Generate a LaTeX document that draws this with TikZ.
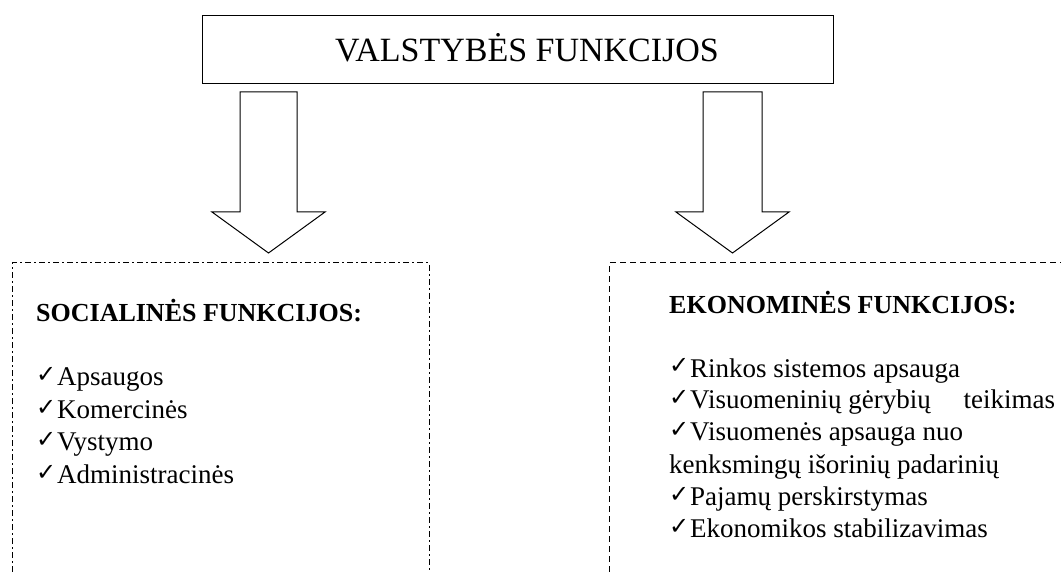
\documentclass[tikz,border=0pt]{standalone}
\usepackage{fontspec}
\setmainfont{Liberation Serif}
\newfontfamily\checkfont{DejaVu Sans}
\newcommand{\tick}{\makebox[21pt][l]{\raisebox{3pt}{\checkfont\fontsize{24}{24}\selectfont ✓}}}
\tikzset{
  headbox/.style={draw, line width=1pt, inner sep=0pt},
  titletext/.style={anchor=base, inner sep=0pt, font=\fontsize{34}{34}\selectfont},
  grouphead/.style={anchor=base west, inner sep=0pt, font=\bfseries\fontsize{26}{26}\selectfont},
  entry/.style={anchor=base west, inner sep=0pt, font=\fontsize{27}{27}\selectfont},
  blockarrow/.style={draw, line width=1pt, line join=miter},
  socframe/.style={draw, line width=1pt, dash pattern=on 6pt off 3pt on 2pt off 3pt},
  ekoframe/.style={draw, line width=1pt, dash pattern=on 6pt off 4pt}
}
\begin{document}
\begin{tikzpicture}[x=1pt, y=-1pt]
  \useasboundingbox (0,0) rectangle (1061,572);
  % top box
  \node[headbox, minimum width=631pt, minimum height=68pt] (state) at (517.5,50) {};
  \node[titletext] (title) at (527,62) {VALSTYBĖS FUNKCIJOS};
  % block arrows
  \draw[blockarrow] (240,92) -- (297,92) -- (297,212) -- (325,212) -- (268.5,253)
    -- (212,212) -- (240,212) -- cycle;
  \draw[blockarrow] (703,92) -- (762,92) -- (762,212) -- (789,212) -- (732.5,253)
    -- (676,212) -- (703,212) -- cycle;
  % open frames
  \coordinate (socTL) at (12,263);
  \coordinate (socTR) at (429,263);
  \coordinate (ekoTL) at (609,263);
  \draw[socframe] (socTL |- 0,572) -- (socTL) -- (socTR) -- (socTR |- 0,572);
  \draw[ekoframe] (ekoTL |- 0,572) -- (ekoTL) -- (1061,263);
  % social functions
  \path
    (36,322) node[grouphead] (soc) {SOCIALINĖS FUNKCIJOS:}
    (36,385) node[entry] (soc1) {\tick Apsaugos}
    (36,418) node[entry] (soc2) {\tick Komercinės}
    (36,450) node[entry] (soc3) {\tick Vystymo}
    (36,483) node[entry] (soc4) {\tick Administracinės};
  % economic functions
  \path
    (669,313) node[grouphead] (eko) {EKONOMINĖS FUNKCIJOS:}
    (669,377) node[entry] (eko1) {\tick Rinkos sistemos apsauga}
    (669,408) node[entry] (eko2) {\tick Visuomeninių gėrybių\hspace{26pt} teikimas}
    (669,440) node[entry] (eko3) {\tick Visuomenės apsauga nuo}
    (669,473) node[entry] (eko4) {kenksmingų išorinių padarinių}
    (669,505) node[entry] (eko5) {\tick Pajamų perskirstymas}
    (669,537) node[entry] (eko6) {\tick Ekonomikos stabilizavimas};
\end{tikzpicture}
\end{document}
